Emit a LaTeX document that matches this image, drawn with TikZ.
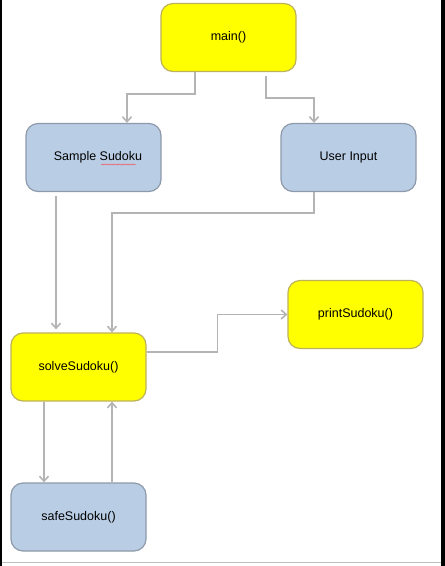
\documentclass[tikz,border=0pt]{standalone}
\usepackage{fontspec}
\setmainfont{Liberation Sans}
\usetikzlibrary{arrows.meta,decorations.pathmorphing}
\definecolor{boxyellow}{HTML}{FFFF00}
\definecolor{yellowline}{HTML}{BDB25A}
\definecolor{boxblue}{HTML}{B9CDE5}
\definecolor{blueline}{HTML}{8E9AAB}
\definecolor{arrowgray}{HTML}{B4B4B4}
\begin{document}
\begin{tikzpicture}[x=1pt, y=-1pt,
		func/.style={draw=yellowline, fill=boxyellow, line width=1.2pt, rounded corners=12pt, minimum width=135pt, minimum height=68pt, inner sep=0, font=\fontsize{12.5}{14}\selectfont},
		data/.style={func, draw=blueline, fill=boxblue},
		arr/.style={draw=arrowgray, line width=1.6pt, -{Straight Barb[length=5pt, width=9pt]}}]
		\useasboundingbox (0,0) rectangle (445,566);
		\fill[white] (0,0) rectangle (445,566);
		\fill[black] (0,0) rectangle (2,566);
		\fill[black] (441,0) rectangle (445,566);
		\draw[gray!50, line width=1pt] (2,562) -- (441,562);
		\node[func] at (228.5,37.5) (main) {main()};
		\node[data] at (93.5,157.5) (sample) {\hspace{9pt}Sample Sudoku};
		\node[data] at (348.5,157.5) (user) {User Input};
		\node[func] at (355.5,314.5) (print) {printSudoku()};
		\node[func] at (78.5,367) (solve) {solveSudoku()};
		\node[data] at (78.5,517) (safe) {safeSudoku()};
		\draw[red!75, line width=0.4pt, decorate, decoration={snake, amplitude=0.5pt, segment length=2.5pt}] (101,164.5) -- (136,164.5);
		\draw[arr] ([xshift=-33.5pt]main.south) -- ++(0,22) -| ([xshift=33.5pt]sample.north);
		\draw[arr, shorten <=4pt] ([xshift=37.5pt]main.south) -- ++(0,26) -| ([xshift=-34.5pt]user.north);
		\draw[arr, shorten <=4pt, shorten >=3pt] ([xshift=-37.5pt]sample.south) -- ([xshift=-22.5pt]solve.north);
		\draw[arr] ([xshift=-34.5pt]user.south) -- ++(0,21) -| ([xshift=33.5pt]solve.north);
		\draw[arr] ([yshift=15pt]solve.east) -- ++(71,0) |- (print.west);
		\draw[arr] ([xshift=-34.5pt]solve.south) -- ([xshift=-34.5pt]safe.north);
		\draw[arr] ([xshift=33.5pt]safe.north) -- ([xshift=33.5pt]solve.south);
	\end{tikzpicture}
\end{document}
